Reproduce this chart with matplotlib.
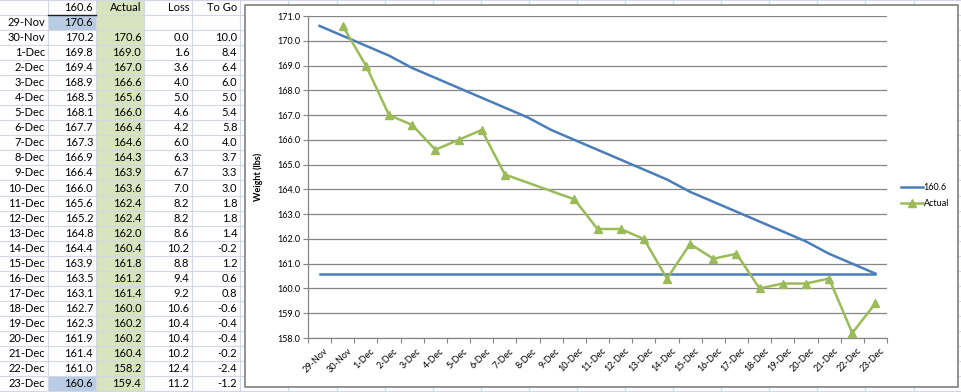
import numpy as np
import matplotlib
matplotlib.use('Agg')
import matplotlib.pyplot as plt
import matplotlib.patches as patches
import matplotlib.transforms as mtransforms

plt.rcParams['font.family'] = ['Lato', 'DejaVu Sans']

# data read from the sheet
dates = ['29-Nov', '30-Nov', '1-Dec', '2-Dec', '3-Dec', '4-Dec', '5-Dec', '6-Dec',
         '7-Dec', '8-Dec', '9-Dec', '10-Dec', '11-Dec', '12-Dec', '13-Dec', '14-Dec',
         '15-Dec', '16-Dec', '17-Dec', '18-Dec', '19-Dec', '20-Dec', '21-Dec',
         '22-Dec', '23-Dec']
target = [170.6, 170.2, 169.8, 169.4, 168.9, 168.5, 168.1, 167.7, 167.3, 166.9,
          166.4, 166.0, 165.6, 165.2, 164.8, 164.4, 163.9, 163.5, 163.1, 162.7,
          162.3, 161.9, 161.4, 161.0, 160.6]
actual = [None, 170.6, 169.0, 167.0, 166.6, 165.6, 166.0, 166.4, 164.6, 164.3,
          163.9, 163.6, 162.4, 162.4, 162.0, 160.4, 161.8, 161.2, 161.4, 160.0,
          160.2, 160.2, 160.4, 158.2, 159.4]
loss = [None, 0.0, 1.6, 3.6, 4.0, 5.0, 4.6, 4.2, 6.0, 6.3, 6.7, 7.0, 8.2, 8.2,
        8.6, 10.2, 8.8, 9.4, 9.2, 10.6, 10.4, 10.4, 10.2, 12.4, 11.2]
to_go = [None, 10.0, 8.4, 6.4, 6.0, 5.0, 5.4, 5.8, 4.0, 3.7, 3.3, 3.0, 1.8, 1.8,
         1.4, -0.2, 1.2, 0.6, 0.8, -0.6, -0.4, -0.4, -0.2, -2.4, -1.2]
headers = ['', '160.6', 'Actual', 'Loss', 'To Go']
# days filled in on the sheet but not weighed (no point on the chart)
not_weighed = ['8-Dec', '9-Dec']

W, H = 961, 392
fig = plt.figure(figsize=(W / 100, H / 100), dpi=100)

# spreadsheet background, pixel coords
bg = fig.add_axes([0, 0, 1, 1])
bg.set_xlim(0, W)
bg.set_ylim(H, 0)
bg.axis('off')

cw = 48.08
rh = 15.04
grid_c = '#D0D7E5'
nrows = len(dates) + 1

bg.add_patch(patches.Rectangle((2 * cw, 0), cw, nrows * rh, color='#D7E4BD', lw=0))
bg.add_patch(patches.Rectangle((cw, rh), cw, rh, color='#B8CCE4', lw=0))
bg.add_patch(patches.Rectangle((cw, nrows * rh - rh), cw, rh, color='#B8CCE4', lw=0))

for r in range(nrows + 1):
    bg.plot([0, W], [r * rh, r * rh], color=grid_c, lw=0.8)
for c in range(1, 21):
    bg.plot([c * cw, c * cw], [0, H], color=grid_c, lw=0.8)
bg.plot([cw, 2 * cw], [rh, rh], color='#202020', lw=1.0)

fs = 8
for j, h in enumerate(headers):
    bg.text((j + 1) * cw - 3, 0.5 * rh, h, ha='right', va='center', fontsize=fs)


def fmt(v):
    return '' if v is None else f'{v:.1f}'


for i, d in enumerate(dates):
    y = (i + 1.5) * rh
    vals = [d, fmt(target[i]), fmt(actual[i]), fmt(loss[i]), fmt(to_go[i])]
    for j, s in enumerate(vals):
        bg.text((j + 1) * cw - 3, y, s, ha='right', va='center', fontsize=fs)

# chart box
bg.add_patch(patches.Rectangle((245, 5), 713, 382, facecolor='white',
                               edgecolor='#7F7F7F', lw=1.2, zorder=5))

ax = fig.add_axes([308 / W, (H - 338) / H, 579 / W, 322 / H], zorder=10)
ax.patch.set_alpha(0)
x = np.arange(len(dates))

blue = '#4A7EBB'
green = '#9BBB59'
ax.plot(x, target, color=blue, lw=1.8, label='160.6', zorder=3)
ax.plot([x[0], x[-1]], [target[-1], target[-1]], color=blue, lw=1.8, zorder=3)

ax_x = [i for i, v in enumerate(actual) if v is not None and dates[i] not in not_weighed]
ax_y = [actual[i] for i in ax_x]
ax.plot(ax_x, ax_y, color=green, lw=1.8, marker='^', markersize=5.5,
        label='Actual', zorder=4)

ax.set_xlim(-0.5, len(dates) - 0.5)
ax.set_ylim(158, 171)
ax.set_yticks(np.arange(158, 171.5, 1))
ax.yaxis.set_major_formatter(matplotlib.ticker.FormatStrFormatter('%.1f'))
ax.yaxis.grid(True, color='#868686', lw=0.9)
ax.set_axisbelow(True)
for s in ['top', 'right']:
    ax.spines[s].set_visible(False)
for s in ['left', 'bottom']:
    ax.spines[s].set_color('#868686')
    ax.spines[s].set_linewidth(0.9)

ax.set_xticks(np.arange(-0.5, len(dates), 1))
ax.set_xticklabels([])
ax.set_xticks(x, minor=True)
ax.set_xticklabels(dates, minor=True, rotation=45, ha='right',
                   rotation_mode='anchor', fontsize=6.5)
ax.tick_params(axis='x', which='major', length=3.5, color='#868686', direction='out')
ax.tick_params(axis='x', which='minor', length=0, pad=6)
ax.tick_params(axis='y', length=3.5, color='#868686', labelsize=6.5, pad=2)
shift = mtransforms.ScaledTranslation(3 / 72, 0, fig.dpi_scale_trans)
for lbl in ax.get_xticklabels(minor=True):
    lbl.set_transform(lbl.get_transform() + shift)

ax.set_ylabel('Weight (lbs)', fontsize=6.5, fontweight='bold')
ax.yaxis.set_label_coords((263 - 308) / 579, 0.5)

ax.legend(loc='upper left', bbox_to_anchor=(901 / W, 1 - 183 / H),
          bbox_transform=fig.transFigure, frameon=False, fontsize=6.5,
          handlelength=2.4, handletextpad=0.1, labelspacing=0.75,
          borderpad=0, borderaxespad=0)

fig.savefig('out.png', dpi=100)
